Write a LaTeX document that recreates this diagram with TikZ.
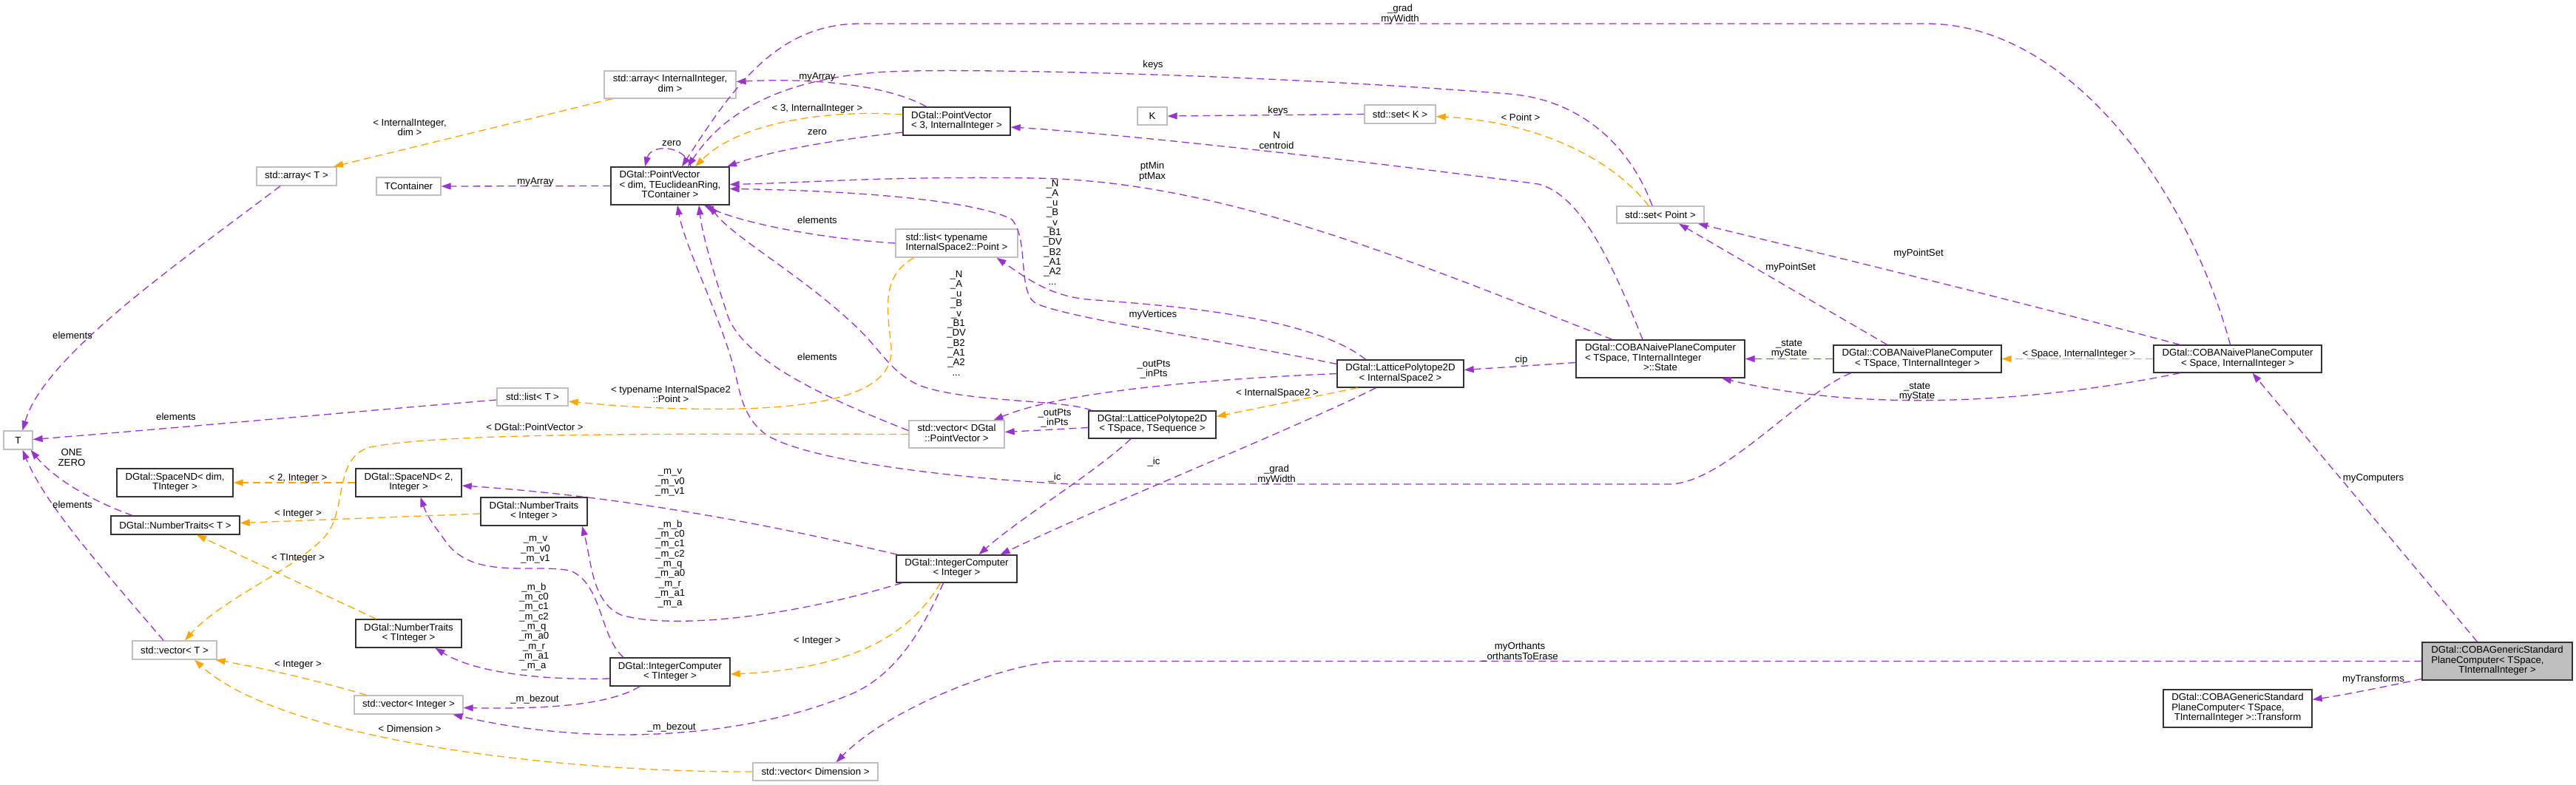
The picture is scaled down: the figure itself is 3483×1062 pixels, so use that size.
\documentclass[tikz,border=0pt]{standalone}
\usepackage{fontspec}
\setmainfont{Liberation Sans}
\usetikzlibrary{arrows.meta}
\definecolor{pur}{HTML}{9A32CD}
\definecolor{org}{HTML}{FFA500}
\definecolor{gbord}{HTML}{BFBFBF}
\definecolor{mfill}{HTML}{BFBFBF}
\newcommand\lbfont{\fontsize{13.2pt}{13.3pt}\selectfont}
\newcommand\cbox[2]{\begin{tabular}{@{}l@{}}#1\\\multicolumn{1}{@{}c@{}}{#2}\end{tabular}}
\begin{document}
\begin{tikzpicture}[x=1pt,y=-1pt,
 base/.style={inner sep=0pt, font=\lbfont, align=center},
 ext/.style={base, draw=gbord, line width=1.3pt, fill=white},
 cls/.style={base, draw=black!80, line width=1.4pt, fill=white},
 lbl/.style={base},
 pe/.style={draw=pur, line width=1.3pt, dash pattern=on 10pt off 6pt, -{Triangle[length=13pt,width=9pt]}},
 oe/.style={draw=org, line width=1.3pt, dash pattern=on 10pt off 6pt, -{Triangle[length=13pt,width=9pt]}},
 sz/.style 2 args={minimum width=#1pt, minimum height=#2pt}]
\path[use as bounding box, fill=white] (0,0) rectangle (3483,1062);

% nodes
\node[ext, sz={108}{25}] (arrT) at (401,238.5) {std::array< T >};
\node[ext, sz={87}{24}] (tcont) at (552.5,252) {TContainer};
\node[ext, sz={39}{25}] (T) at (24.5,595.5) {T};
\node[cls, sz={157}{38}] (sndDim) at (236.5,653) {\cbox{DGtal::SpaceND< dim,}{TInteger >}};
\node[cls, sz={174}{25}] (ntT) at (237,710.5) {DGtal::NumberTraits< T >};
\node[cls, sz={143}{38}] (snd2) at (552.5,653) {\cbox{DGtal::SpaceND< 2,}{Integer >}};
\node[cls, sz={143}{38}] (ntTI) at (552.5,857) {\cbox{DGtal::NumberTraits}{< TInteger >}};
\node[ext, sz={114}{25}] (vecT) at (236,879.5) {std::vector< T >};
\node[ext, sz={147}{25}] (vecI) at (552.5,953.5) {std::vector< Integer >};
\node[cls, sz={144}{38}] (ntI) at (722,692) {\cbox{DGtal::NumberTraits}{< Integer >}};
\node[ext, sz={178}{37}] (arrII) at (906,114.5) {\cbox{std::array< InternalInteger,}{dim >}};
\node[cls, sz={160}{51}] (pv) at (906,251.5) {\cbox{DGtal::PointVector\\< dim, TEuclideanRing,}{TContainer >}};
\node[cls, sz={145}{38}] (pv3) at (1293.5,164) {\cbox{DGtal::PointVector}{< 3, InternalInteger >}};
\node[ext, sz={165}{38}] (listIS) at (1293.5,329) {\cbox{std::list< typename}{InternalSpace2::Point >}};
\node[ext, sz={96}{24}] (listT) at (720,537) {std::list< T >};
\node[ext, sz={129}{37}] (vecPV) at (1293.5,587.5) {\cbox{std::vector< DGtal}{::PointVector >}};
\node[cls, sz={163}{37}] (icI) at (1293.5,769.5) {\cbox{DGtal::IntegerComputer}{< Integer >}};
\node[cls, sz={162}{38}] (icTI) at (906,909) {\cbox{DGtal::IntegerComputer}{< TInteger >}};
\node[ext, sz={169}{24}] (vecDim) at (1102.5,1044) {std::vector< Dimension >};
\node[ext, sz={40}{24}] (K) at (1558,157) {K};
\node[ext, sz={96}{25}] (setK) at (1893,154.5) {std::set< K >};
\node[cls, sz={171}{37}] (lpIS) at (1893.5,505.5) {\cbox{DGtal::LatticePolytope2D}{< InternalSpace2 >}};
\node[cls, sz={172}{37}] (lpTS) at (1558,574.5) {\cbox{DGtal::LatticePolytope2D}{< TSpace, TSequence >}};
\node[ext, sz={118}{23}] (setP) at (2245,290.5) {std::set< Point >};
\node[cls, sz={228}{51}] (state) at (2245,485.5) {\cbox{DGtal::COBANaivePlaneComputer\\< TSpace, TInternalInteger}{>::State}};
\node[cls, sz={227}{37}] (cobaT) at (2592.5,485.5) {\cbox{DGtal::COBANaivePlaneComputer}{< TSpace, TInternalInteger >}};
\node[cls, sz={227}{37}] (cobaS) at (3025.5,485.5) {\cbox{DGtal::COBANaivePlaneComputer}{< Space, InternalInteger >}};
\node[cls, fill=mfill, sz={203}{51}] (main) at (3376.5,894.5) {\cbox{DGtal::COBAGenericStandard\\PlaneComputer< TSpace,}{TInternalInteger >}};
\node[cls, sz={201}{51}] (trans) at (3025.5,958.5) {\cbox{DGtal::COBAGenericStandard\\PlaneComputer< TSpace,}{TInternalInteger >::Transform}};

% edges
\draw[pe] ([xshift=-22pt]arrT.south) .. controls (250,350) and (60,480) .. ([xshift=6pt]T.north);
\draw[oe] ([xshift=-78pt]arrII.south) -- ([xshift=50pt]arrT.north);
\draw[pe] (pv.west) -- (tcont.east);
\draw[pe] ([xshift=-41pt]pv3.north) .. controls (1200,115) and (1100,105) .. ([yshift=4pt]arrII.east);
\draw[oe] ([yshift=9pt]pv3.west) .. controls (1120,148) and (1000,165) .. ([xshift=34pt]pv.north);
\draw[pe] ([yshift=-15pt]pv3.west) .. controls (1120,190) and (1040,205) .. ([xshift=77pt]pv.north);
\draw[pe] ([xshift=28pt]pv.north) .. controls (925,195) and (880,195) .. ([xshift=-34pt]pv.north);
\draw[pe] ([xshift=-10pt]cobaS.north) .. controls (2960,260) and (2800,32) .. (2604,32) -- (1163,32) .. controls (1050,32) and (990,120) .. ([xshift=16pt]pv.north);
\draw[pe] ([xshift=-11pt]setP.north) .. controls (2205,200) and (2140,135) .. (2040,127) .. controls (1700,100) and (1300,92) .. (1200,97) .. controls (1060,105) and (980,150) .. ([xshift=24pt]pv.north);
\draw[pe] (setK.west) -- (K.east);
\draw[oe] ([xshift=-16pt]setP.north) .. controls (2180,215) and (2080,165) .. ([yshift=-3pt]setK.east);
\draw[pe] ([xshift=-24pt]state.north) .. controls (2170,330) and (2130,262) .. (2080,249) .. controls (1800,212) and (1500,180) .. ([yshift=-8pt]pv3.east);
\draw[pe] ([xshift=-65pt]state.north) .. controls (1900,350) and (1650,245) .. (1400,241) .. controls (1200,238) and (1100,247) .. ([yshift=2pt]pv.east);
\draw[pe] ([yshift=13pt]lpIS.west) .. controls (1650,460) and (1440,430) .. (1400,410) .. controls (1375,395) and (1392,320) .. (1367,296) .. controls (1300,265) and (1100,257) .. ([yshift=-4pt]pv.east);
\draw[pe] ([xshift=-47pt]lpIS.north) .. controls (1770,425) and (1560,412) .. (1470,405) .. controls (1420,400) and (1390,378) .. ([xshift=54pt]listIS.south);
\draw[pe] (listIS.west) .. controls (1100,322) and (1000,300) .. ([xshift=46pt]pv.south);
\draw[oe] ([xshift=-58pt]listIS.south) .. controls (1190,375) and (1200,420) .. (1205,470) .. controls (1210,530) and (1120,550) .. (1000,553) .. controls (900,555) and (820,548) .. ([yshift=-6pt]listT.east);
\draw[oe] ([xshift=-58pt]lpIS.south) -- ([yshift=11pt]lpTS.east);
\draw[pe] ([xshift=-33pt]lpIS.south) .. controls (1750,580) and (1500,680) .. ([xshift=59pt]icI.north);
\draw[pe] ([xshift=-29pt]lpTS.south) .. controls (1480,640) and (1380,700) .. ([xshift=30pt]icI.north);
\draw[pe] ([yshift=-4pt]lpTS.west) -- ([yshift=3pt]vecPV.east);
\draw[pe] (lpIS.west) .. controls (1650,512) and (1440,528) .. ([xshift=50pt]vecPV.north);
\draw[pe] ([xshift=-90pt]cobaT.south) .. controls (2430,535) and (2330,655) .. (2256,655) -- (1450,655) .. controls (1300,648) and (1100,625) .. (1039,590) .. controls (1000,565) and (1000,520) .. (990,490) .. controls (970,420) and (925,330) .. ([xshift=10pt]pv.south);
\draw[pe] ([yshift=5pt]vecPV.west) .. controls (1120,540) and (1010,490) .. (985,430) .. controls (965,370) and (950,320) .. ([xshift=39pt]pv.south);
\draw[pe] ([xshift=-82pt]lpTS.north) .. controls (1440,540) and (1300,545) .. (1240,520) .. controls (1200,500) and (1190,470) .. (1150,435) .. controls (1080,370) and (990,320) .. ([xshift=53pt]pv.south);
\draw[pe] ([xshift=-80pt]icI.north) .. controls (1050,712) and (850,672) .. ([yshift=-4pt]snd2.east);
\draw[pe] ([xshift=-74pt]icI.south) .. controls (1050,840) and (900,850) .. (840,832) .. controls (800,815) and (800,760) .. ([xshift=65pt]ntI.south);
\draw[pe] ([xshift=-63pt]icTI.north) .. controls (810,860) and (815,790) .. (771,772) .. controls (720,762) and (640,785) .. (603,733) .. controls (590,715) and (578,700) .. ([xshift=16pt]snd2.south);
\draw[pe] ([yshift=-9pt]icTI.west) .. controls (760,920) and (650,915) .. ([xshift=36pt]ntTI.south);
\draw[pe] ([xshift=-18pt]icI.south) .. controls (1240,870) and (1200,920) .. (1146,941) .. controls (1000,1000) and (800,1010) .. ([xshift=60pt]vecI.south);
\draw[pe] ([xshift=-41pt]icTI.south) .. controls (830,950) and (760,960) .. ([yshift=-4pt]vecI.east);
\draw[oe] ([xshift=-22pt]icI.south) .. controls (1230,860) and (1150,905) .. ([yshift=-3pt]icTI.east);
\draw[pe] (main.west) -- (1430,894.5) .. controls (1350,900) and (1200,960) .. ([xshift=28pt]vecDim.north);
\draw[oe] (vecDim.west) .. controls (750,1045) and (380,1000) .. ([xshift=27pt]vecT.south);
\draw[oe] ([xshift=-57pt]vecI.north) .. controls (420,918) and (350,903) .. ([xshift=-2pt]vecT.south east);
\draw[pe] ([xshift=-15pt]vecT.north) .. controls (130,760) and (60,680) .. ([xshift=6pt]T.south);
\draw[pe] ([xshift=-58pt]ntT.north) .. controls (130,680) and (75,650) .. ([xshift=17pt]T.south);
\draw[pe] ([yshift=-4pt]listT.west) .. controls (500,555) and (250,578) .. ([yshift=1pt]T.east);
\draw[oe] (vecPV.west) .. controls (900,587) and (600,585) .. (500,605) .. controls (450,620) and (470,690) .. (440,725) .. controls (400,770) and (300,810) .. ([xshift=14pt]vecT.north);
\draw[oe] (snd2.west) -- (sndDim.east);
\draw[oe] ([yshift=-3pt]ntI.west) -- ([yshift=3pt]ntT.east);
\draw[oe] ([xshift=-44pt]ntTI.north) -- ([xshift=29pt]ntT.south);
\draw[pe] (cobaT.west) -- (state.east);
\draw[pe] ([xshift=-78pt]cobaS.south) .. controls (2800,535) and (2550,565) .. ([xshift=83pt]state.south);
\draw[oe] (cobaS.west) -- (cobaT.east);
\draw[pe] ([xshift=-41pt]cobaT.north) -- ([xshift=25pt]setP.south);
\draw[pe] ([xshift=-78pt]cobaS.north) .. controls (2700,400) and (2450,340) .. ([xshift=51pt]setP.south);
\draw[pe] ([yshift=-5pt]state.west) -- ([yshift=5pt]lpIS.east);
\draw[pe] ([xshift=-27pt]main.north) -- ([xshift=20pt]cobaS.south);
\draw[pe] ([yshift=-24pt]main.west) .. controls (3220,930) and (3170,940) .. ([yshift=12pt]trans.east);

% labels
\node[lbl] (l1) at (554,172) {< InternalInteger,\\ dim >};
\node[lbl] (l2) at (98,454) {elements};
\node[lbl] (l3) at (724,246) {myArray};
\node[lbl] (l4) at (1105,104) {myArray};
\node[lbl] (l5) at (1105,147) {< 3, InternalInteger >};
\node[lbl] (l6) at (1105,179) {zero};
\node[lbl] (l7) at (908,194) {zero};
\node[lbl] (l8) at (1893,19) {\_grad\\myWidth};
\node[lbl] (l9) at (1559,88) {keys};
\node[lbl] (l10) at (1728,150) {keys};
\node[lbl] (l11) at (2056,159) {< Point >};
\node[lbl] (l12) at (1726,190) {N\\centroid};
\node[lbl] (l13) at (1558,232) {ptMin\\ptMax};
\node[lbl] (l14) at (1423,314) {\_N\\\_A\\\_u\\\_B\\\_v\\\_B1\\\_DV\\\_B2\\\_A1\\\_A2\\...};
\node[lbl] (l15) at (1559,426) {myVertices};
\node[lbl] (l16) at (1105,298) {elements};
\node[lbl] (l17) at (907,533) {< typename InternalSpace2\\::Point >};
\node[lbl] (l18) at (1727,532) {< InternalSpace2 >};
\node[lbl] (l19) at (1560,625) {\_ic};
\node[lbl] (l20) at (1426,646) {\_ic};
\node[lbl] (l21) at (1426,566) {\_outPts\\\_inPts};
\node[lbl] (l22) at (1560,500) {\_outPts\\\_inPts};
\node[lbl] (l23) at (1726,642) {\_grad\\myWidth};
\node[lbl] (l24) at (1105,483) {elements};
\node[lbl] (l25) at (1293,437) {\_N\\\_A\\\_u\\\_B\\\_v\\\_B1\\\_DV\\\_B2\\\_A1\\\_A2\\...};
\node[lbl] (l26) at (906,653) {\_m\_v\\\_m\_v0\\\_m\_v1};
\node[lbl] (l27) at (906,763) {\_m\_b\\\_m\_c0\\\_m\_c1\\\_m\_c2\\\_m\_q\\\_m\_a0\\\_m\_r\\\_m\_a1\\\_m\_a};
\node[lbl] (l28) at (724,744) {\_m\_v\\\_m\_v0\\\_m\_v1};
\node[lbl] (l29) at (722,848) {\_m\_b\\\_m\_c0\\\_m\_c1\\\_m\_c2\\\_m\_q\\\_m\_a0\\\_m\_r\\\_m\_a1\\\_m\_a};
\node[lbl] (l30) at (908,984) {\_m\_bezout};
\node[lbl] (l31) at (723,946) {\_m\_bezout};
\node[lbl] (l32) at (1105,867) {< Integer >};
\node[lbl] (l33) at (2055,882) {myOrthants\\\_orthantsToErase};
\node[lbl] (l34) at (554,986) {< Dimension >};
\node[lbl] (l35) at (403,899) {< Integer >};
\node[lbl] (l36) at (98,683) {elements};
\node[lbl] (l37) at (97,619) {ONE\\ZERO};
\node[lbl] (l38) at (238,564) {elements};
\node[lbl] (l39) at (723,578) {< DGtal::PointVector >};
\node[lbl] (l40) at (403,647) {< 2, Integer >};
\node[lbl] (l41) at (403,695) {< Integer >};
\node[lbl] (l42) at (403,755) {< TInteger >};
\node[lbl] (l43) at (2419,472) {\_state\\myState};
\node[lbl] (l44) at (2592,530) {\_state\\myState};
\node[lbl] (l45) at (2811,479) {< Space, InternalInteger >};
\node[lbl] (l46) at (2421,362) {myPointSet};
\node[lbl] (l47) at (2594,343) {myPointSet};
\node[lbl] (l48) at (2057,487) {cip};
\node[lbl] (l49) at (3209,647) {myComputers};
\node[lbl] (l50) at (3209,919) {myTransforms};
\end{tikzpicture}
\end{document}
